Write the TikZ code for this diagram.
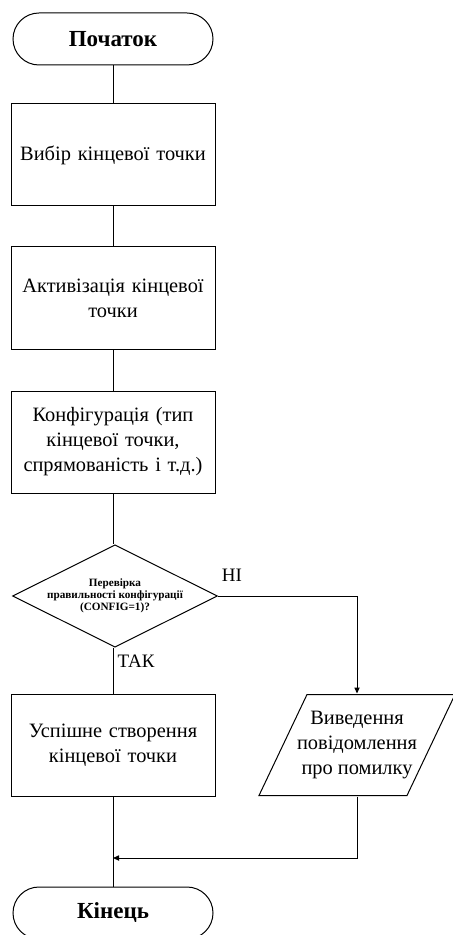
\documentclass[tikz,border=0pt]{standalone}
\usepackage{fontspec}
\setmainfont{Liberation Serif}
\usetikzlibrary{shapes.geometric,arrows.meta,calc}

\tikzset{
  term/.style={draw,rounded corners=13pt,minimum width=100pt,minimum height=26pt,font=\bfseries\fontsize{11.5}{13}\selectfont},
  proc/.style={draw,minimum width=102pt,minimum height=51pt,text width=96pt,align=center,inner sep=0pt,font=\fontsize{10.2}{12.5}\selectfont},
  decis/.style={draw,diamond,minimum width=102pt,minimum height=50pt,inner sep=0pt,aspect=2,align=center,font=\bfseries\fontsize{5.6}{5}\selectfont},
  io/.style={minimum width=100pt,minimum height=51pt,inner sep=0pt,align=center,font=\fontsize{10.2}{12.5}\selectfont},
  flow/.style={line width=0.5pt},
  tip/.style={-{Triangle[length=3pt,width=2.6pt]}},
  lbl/.style={font=\fontsize{9.5}{10}\selectfont,inner sep=2pt}
}

\begin{document}
\begin{tikzpicture}[x=0.5pt,y=-0.5pt,line width=0.5pt]
    \useasboundingbox (0,0) rectangle (453,935);
    \clip (0,0) rectangle (453,935);
    \node[term] (start) at (113,39) {Початок};
    \node[proc] (choose) at (113,155) {Вибір кінцевої точки};
    \node[proc] (activ) at (113,298) {Активізація кінцевої\\точки};
    \node[proc] (config) at (113,442) {Конфігурація (тип\\кінцевої точки,\\спрямованість і т.д.)};
    \node[decis] (check) at (115,596) {Перевірка\\правильності конфігурації\\(CONFIG=1)?};
    \node[proc] (ok) at (113,745) {Успішне створення\\кінцевої точки};
    \node[io] (err) at (357,745) {Виведення\\повідомлення\\про помилку};
    \draw[flow] ($(err.center)+(-50,-50.5)$) -- ($(err.center)+(98,-50.5)$)
        -- ($(err.center)+(50,50.5)$) -- ($(err.center)+(-98,50.5)$) -- cycle;
    \node[term] (stop) at (113,913) {Кінець};
    \coordinate (merge) at (113,858);
    \draw[flow] (start) -- (choose);
    \draw[flow] (choose) -- (activ);
    \draw[flow] (activ) -- (config);
    \draw[flow] (config) -- (check.north -| config.south);
    \draw[flow] (check.south -| ok.north) -- node[lbl,pos=0.3,right] {ТАК} (ok);
    \draw[flow,tip] (check.east) -| node[lbl,pos=0.05,above,yshift=5pt] {НІ} (err.north);
    \draw[flow,tip] (err.south) |- (merge);
    \draw[flow] (ok) -- (stop);
\end{tikzpicture}
\end{document}
